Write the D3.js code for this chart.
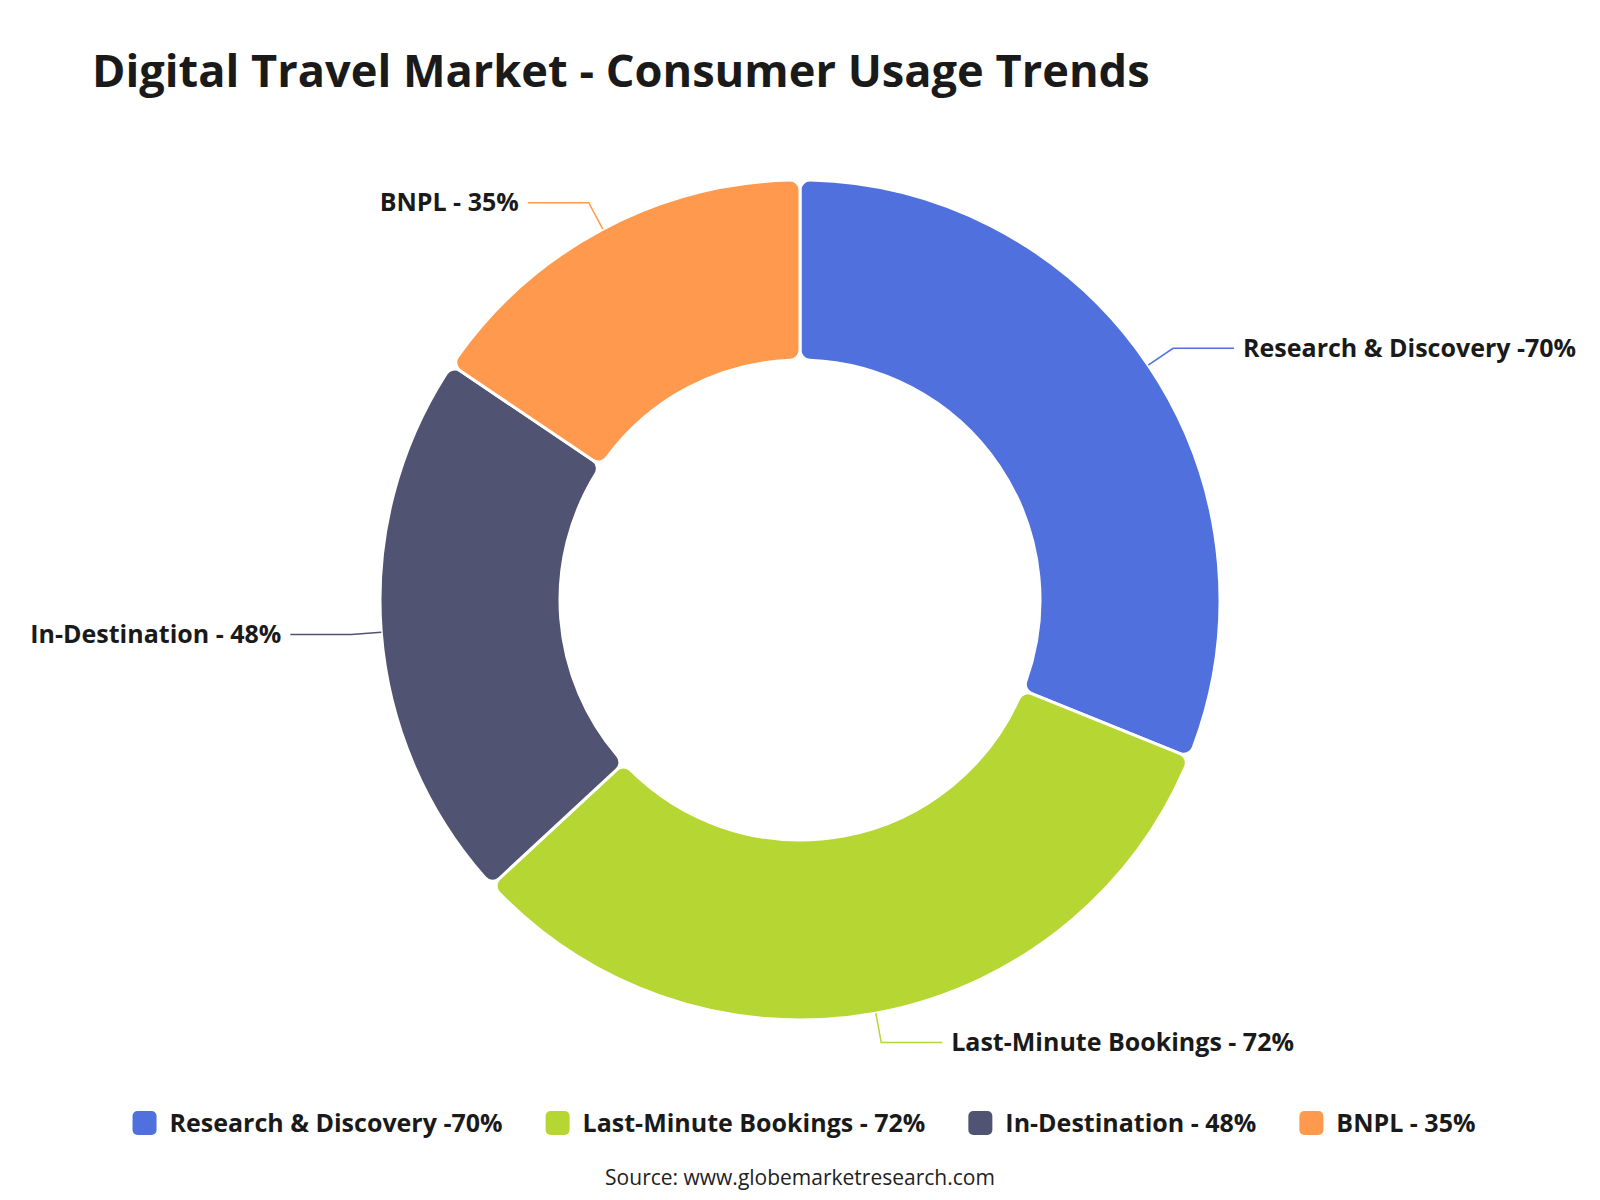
<!DOCTYPE html>
<html>
<head>
<meta charset="utf-8">
<script src="https://cdn.jsdelivr.net/npm/d3@7"></script>
<style>
  html, body { margin: 0; padding: 0; background: #fff; }
  svg { display: block; font-family: "Open Sans", "Noto Sans", sans-serif; }
</style>
</head>
<body>
<svg id="chart" width="1600" height="1200"></svg>
<script>
const width = 1600;
const height = 1200;

// data
const categories = ["Research & Discovery", "Last-Minute Bookings", "In-Destination", "BNPL"];
const values = [70, 72, 48, 35];
const labels = ["Research & Discovery -70%", "Last-Minute Bookings - 72%", "In-Destination - 48%", "BNPL - 35%"];
const colors = ["#5070dd", "#b6d634", "#505372", "#ff994d"];

const svg = d3.select("#chart");

const cx = width / 2;
const cy = height / 2;
const outerR = 420;
const innerR = 240;

const data = categories.map((c, i) => ({ name: c, value: values[i], label: labels[i], color: colors[i] }));

// title
svg.append("text")
  .attr("x", 92)
  .attr("y", 87)
  .attr("fill", "#1a1a1a")
  .style("font-size", "45.2px")
  .style("font-weight", 700)
  .text("Digital Travel Market - Consumer Usage Trends");

const pie = d3.pie()
  .value(d => d.value)
  .sort(null)
  .startAngle(0)
  .endAngle(2 * Math.PI);

const arcs = pie(data);

const arc = d3.arc()
  .innerRadius(innerR)
  .outerRadius(outerR)
  .cornerRadius(10);

const g = svg.append("g").attr("transform", `translate(${cx},${cy})`);

g.selectAll("path.slice")
  .data(arcs)
  .enter()
  .append("path")
  .attr("class", "slice")
  .attr("d", arc)
  .attr("fill", d => d.data.color)
  .attr("stroke", "#fff")
  .attr("stroke-width", 3)
  .attr("stroke-linejoin", "round");

// label lines: radial piece then horizontal piece
const len1 = 30;
const len2 = 61;
const pointAt = (a, r) => [Math.sin(a) * r, -Math.cos(a) * r];

arcs.forEach(d => {
  const mid = (d.startAngle + d.endAngle) / 2;
  const p0 = pointAt(mid, outerR);
  const p1 = pointAt(mid, outerR + len1);
  const right = Math.sin(mid) >= 0;
  const p2 = [p1[0] + (right ? len2 : -len2), p1[1]];

  g.append("polyline")
    .attr("points", [p0, p1, p2].map(p => p.join(",")).join(" "))
    .attr("fill", "none")
    .attr("stroke", d.data.color)
    .attr("stroke-width", 1.5);

  g.append("text")
    .attr("x", p2[0] + (right ? 9 : -9))
    .attr("y", p2[1])
    .attr("dy", "0.35em")
    .attr("text-anchor", right ? "start" : "end")
    .attr("fill", "#1a1a1a")
    .style("font-size", "25px")
    .style("font-weight", 700)
    .text(d.data.label);
});

// legend, centred at the bottom
const legendY = 1123;
const iconSize = 24;
const iconGap = 13;
const itemGap = 43;

const legend = svg.append("g");
const items = legend.selectAll("g")
  .data(data)
  .enter()
  .append("g");

items.append("rect")
  .attr("width", iconSize)
  .attr("height", iconSize)
  .attr("y", legendY - iconSize / 2)
  .attr("rx", 5)
  .attr("fill", d => d.color);

items.append("text")
  .attr("x", iconSize + iconGap)
  .attr("y", legendY)
  .attr("dy", "0.35em")
  .attr("fill", "#1a1a1a")
  .style("font-size", "25px")
  .style("font-weight", 700)
  .text(d => d.label);

let widths = [];
items.each(function() {
  widths.push(iconSize + iconGap + d3.select(this).select("text").node().getComputedTextLength());
});
const total = d3.sum(widths) + itemGap * (widths.length - 1);
let xPos = cx + 4 - total / 2;
items.attr("transform", (d, i) => {
  const t = `translate(${xPos},0)`;
  xPos += widths[i] + itemGap;
  return t;
});

// source
svg.append("text")
  .attr("x", cx)
  .attr("y", 1185)
  .attr("text-anchor", "middle")
  .attr("fill", "#222")
  .style("font-size", "21px")
  .style("font-weight", 500)
  .text("Source: www.globemarketresearch.com");
</script>
</body>
</html>
